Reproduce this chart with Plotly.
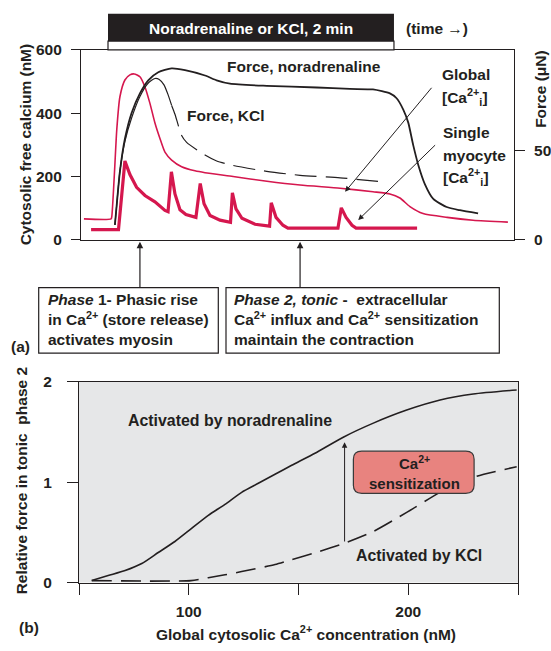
import plotly.graph_objects as go

# ---------------- data ----------------
STIM = [0, 120]  # stimulus bar, s

GLOBAL_T = [-10.1, 1.3, 1.6, 2.6, 3.7, 5.0, 7.1, 9.2, 11.0, 13.4, 15.5, 17.6, 19.7, 21.8, 23.9,
            26.7, 30.9, 36.5, 40.7, 52.5, 66.7, 80.6, 97.4, 111.2, 118.3, 122.5, 126.7, 132.2,
            142.3, 153.2, 167.8]
GLOBAL_CA = [66, 66, 74, 197, 350, 452, 505, 521, 524, 515, 483, 431, 369, 320, 277,
             252, 231, 218, 212, 200, 185, 173, 163, 152, 145, 132, 105, 83,
             71, 62, 56]

SINGLE_T = [-7.1, 4.4, 7.1, 9.2, 12.0, 15.5, 19.7, 23.9, 25.2, 26.6, 28.1, 30.2, 32.7, 36.9,
            38.7, 40.3, 42.8, 47.0, 51.4, 52.2, 53.7, 56.2, 61.7, 67.8, 68.5, 70.5, 73.4,
            75.5, 96.5, 97.9, 99.9, 102.4, 104.1, 129.7]
SINGLE_CA = [32, 32, 249, 206, 166, 140, 120, 93, 89, 215, 145, 95, 80, 71,
             178, 114, 77, 62, 55, 148, 98, 68, 49, 43, 117, 71, 46,
             37, 37, 101, 71, 46, 37, 37]

NA_T = [2.9, 3.7, 5.0, 7.1, 9.9, 13.4, 16.9, 21.1, 26.7, 32.3, 40.7, 45.6, 51.2, 66.6, 87.6,
        101.5, 111.2, 118.3, 121.1, 123.9, 126.0, 128.1, 130.2, 133.0, 136.5, 142.1, 147.7, 155.3]
NA_FORCE = [8.3, 20.1, 38.2, 56.4, 70.8, 81.7, 89.0, 93.5, 95.7, 94.7, 91.7, 89.0, 87.1, 85.9, 85.0,
            84.2, 83.9, 81.7, 79.0, 72.7, 65.4, 52.7, 41.8, 31.0, 22.8, 18.3, 16.5, 14.7]

KCL_T = [2.9, 3.7, 5.0, 7.1, 9.9, 13.4, 16.9, 19.7, 21.5, 23.5, 25.2, 26.7,
         28.1, 30.9, 33.0, 40.7, 45.6, 52.5, 66.6, 80.6, 97.4, 116.2]
KCL_FORCE = [8.3, 20.1, 38.2, 55.0, 68.0, 80.0, 87.5, 90.0, 89.5, 86.5, 81.0, 75.0,
             70.1, 58.2, 54.4, 47.3, 44.0, 41.5, 38.2, 36.0, 34.6, 32.2]
KCL_SOLID_N = 12  # first points drawn solid, the rest dashed

PHASE_ARROW_T = [13.4, 80.6]

NA_CA = [55.8, 63.3, 71.0, 78.6, 86.1, 93.7, 101.3, 108.9, 116.5, 124.1, 131.7, 139.3, 146.9,
         157.5, 170.4, 184.1, 199.3, 214.5, 229.6, 249.4]
NA_REL = [0.02, 0.07, 0.12, 0.19, 0.30, 0.41, 0.54, 0.67, 0.78, 0.90, 0.99, 1.08, 1.17,
          1.29, 1.45, 1.59, 1.72, 1.82, 1.88, 1.92]
KCL_CA = [55.8, 101.0, 108.9, 116.5, 124.1, 139.3, 147.0, 158.0, 171.2, 184.1, 199.3, 214.5,
          231.2, 249.4]
KCL_REL = [0.02, 0.02, 0.049, 0.078, 0.11, 0.18, 0.23, 0.30, 0.395, 0.51, 0.70, 0.90,
           1.06, 1.155]
SENS_CA = 171
SENS_FROM, SENS_TO = 0.395, 1.40

# ---------------- styling ----------------
W, H = 551, 651
RED = "#d5174e"
INK = "#231f20"
FONT = "Liberation Sans, Arial, sans-serif"
FS = 15.5


def px(x):
    return x / W


def py(y):
    return 1 - y / H


fig = go.Figure()

fig.add_trace(go.Scatter(x=GLOBAL_T, y=GLOBAL_CA, mode="lines", xaxis="x", yaxis="y",
                         line=dict(color=RED, width=1.6, shape="spline", smoothing=0.6)))
fig.add_trace(go.Scatter(x=SINGLE_T, y=SINGLE_CA, mode="lines", xaxis="x", yaxis="y",
                         line=dict(color=RED, width=3.2)))
fig.add_trace(go.Scatter(x=NA_T, y=NA_FORCE, mode="lines", xaxis="x", yaxis="y2",
                         line=dict(color=INK, width=1.8, shape="spline", smoothing=0.6)))
fig.add_trace(go.Scatter(x=KCL_T[:KCL_SOLID_N], y=KCL_FORCE[:KCL_SOLID_N], mode="lines",
                         xaxis="x", yaxis="y2",
                         line=dict(color=INK, width=1.2, shape="spline", smoothing=0.6)))
fig.add_trace(go.Scatter(x=KCL_T[KCL_SOLID_N - 1:], y=KCL_FORCE[KCL_SOLID_N - 1:], mode="lines",
                         xaxis="x", yaxis="y2",
                         line=dict(color=INK, width=1.2, dash="22px,9px", shape="spline", smoothing=0.6)))

fig.add_trace(go.Scatter(x=NA_CA, y=NA_REL, mode="lines", xaxis="x2", yaxis="y3",
                         line=dict(color=INK, width=1.6, shape="spline", smoothing=0.6)))
fig.add_trace(go.Scatter(x=KCL_CA, y=KCL_REL, mode="lines", xaxis="x2", yaxis="y3",
                         line=dict(color=INK, width=1.6, dash="20px,9px", shape="spline", smoothing=0.6)))

axis_common = dict(showgrid=False, zeroline=False, linecolor=INK, linewidth=1.2,
                   tickcolor=INK, tickwidth=1.2,
                   tickfont=dict(family=FONT, size=FS, color=INK, weight="bold"))

fig.update_layout(
    width=W, height=H, margin=dict(l=0, r=0, t=0, b=0),
    paper_bgcolor="white", plot_bgcolor="white", showlegend=False,
    font=dict(family=FONT, size=FS, color=INK, weight="bold"),
    xaxis=dict(domain=[px(81), px(514)], range=[-11.33, 170.37], anchor="y",
               showline=True, mirror=True, ticks="", showticklabels=False, **axis_common),
    yaxis=dict(domain=[py(237), py(42)], range=[0, 600], anchor="x",
               tickvals=[0, 200, 400, 600], ticks="outside", ticklen=9, ticklabelstandoff=6,
               showline=True, mirror=True, **axis_common),
    yaxis2=dict(overlaying="y", side="right", anchor="x", range=[0, 105.98],
                tickvals=[0, 50], ticks="outside", ticklen=10, ticklabelstandoff=6,
                showline=False, **axis_common),
    xaxis2=dict(domain=[px(79), px(518)], range=[50, 250], anchor="y3",
                tickvals=[50, 100, 150, 200, 250], ticktext=["", "100", "", "200", ""],
                ticks="outside", ticklen=11, ticklabelstandoff=4,
                showline=True, mirror=True, **axis_common),
    yaxis3=dict(domain=[py(589), py(383)], range=[0, 2], anchor="x2",
                tickvals=[0, 1, 2], ticks="outside", ticklen=11, ticklabelstandoff=12,
                showline=True, mirror=True, **axis_common),
)

shapes = []
# stimulus bar
shapes.append(dict(type="rect", xref="x", yref="paper", x0=STIM[0], x1=STIM[1],
                   y0=py(33), y1=py(5), fillcolor=INK, line=dict(width=0)))
shapes.append(dict(type="rect", xref="x", yref="paper", x0=STIM[0], x1=STIM[1],
                   y0=py(42), y1=py(33), fillcolor="white", line=dict(color=INK, width=1.2)))
# phase boxes
shapes.append(dict(type="rect", xref="paper", yref="paper", x0=px(38.7), x1=px(218.3),
                   y0=py(353.3), y1=py(286), line=dict(color=INK, width=1.2)))
shapes.append(dict(type="rect", xref="paper", yref="paper", x0=px(226), x1=px(499.3),
                   y0=py(353.3), y1=py(286), line=dict(color=INK, width=1.2)))
# grey background of panel b
shapes.append(dict(type="rect", xref="x2 domain", yref="y3 domain", x0=0, x1=1, y0=0, y1=1,
                   fillcolor="#e6e7e8", line=dict(width=0), layer="below"))
# Ca2+ sensitization rounded box
x0, x1, y0, y1 = 175, 230, 0.89, 1.31
rx, ry = 3.8, 0.08
path = (f"M {x0+rx},{y0} L {x1-rx},{y0} Q {x1},{y0} {x1},{y0+ry} L {x1},{y1-ry} "
        f"Q {x1},{y1} {x1-rx},{y1} L {x0+rx},{y1} Q {x0},{y1} {x0},{y1-ry} "
        f"L {x0},{y0+ry} Q {x0},{y0} {x0+rx},{y0} Z")
shapes.append(dict(type="path", xref="x2", yref="y3", path=path, fillcolor="#e8837f",
                   line=dict(color="#3a3a3a", width=1.2), layer="above"))
fig.update_layout(shapes=shapes)

ann = []


def text(x, y, s, xanchor="center", color=INK, size=FS, angle=0, yanchor="middle", align="left"):
    ann.append(dict(x=px(x), y=py(y), xref="paper", yref="paper", text=s, showarrow=False,
                    xanchor=xanchor, yanchor=yanchor, textangle=angle, align=align,
                    font=dict(family=FONT, size=size, color=color, weight="bold")))


text(251, 20, "Noradrenaline or KCl, 2 min", color="white")
text(437, 20, "(time \u2192)")
text(304, 59, "Force, noradrenaline")
text(226, 109, "Force, KCl")
text(440, 67, "Global", xanchor="left")
text(440, 90, "[Ca<sup>2+</sup><sub>i</sub>]", xanchor="left")
text(441, 127, "Single", xanchor="left")
text(441, 150, "myocyte", xanchor="left")
text(441, 172, "[Ca<sup>2+</sup><sub>i</sub>]", xanchor="left")
text(25, 139, "Cytosolic free calcium (nM)", angle=-90)
text(541, 82, "Force (\u03bcN)", angle=-90)
text(46, 319, "<i>Phase</i> 1- Phasic rise<br>in Ca<sup>2+</sup> (store release)<br>activates myosin",
     xanchor="left")
text(232, 319, "<i>Phase 2, tonic</i> -&nbsp; extracellular<br>Ca<sup>2+</sup> influx and Ca<sup>2+</sup> sensitization"
     "<br>maintain the contraction", xanchor="left")
text(20, 347, "(a)")
text(230, 423, "Activated by noradrenaline", size=15.9)
text(419, 561, "Activated by KCl", size=15.9)
text(414, 466, "Ca<sup>2+</sup>", size=15)
text(414, 487, "sensitization", size=15)
text(21, 485, "Relative force in tonic&nbsp; phase 2", angle=-90)
text(306, 641, "Global cytosolic Ca<sup>2+</sup> concentration (nM)")
text(29, 635, "(b)")

# arrows from phase boxes
for t in PHASE_ARROW_T:
    ann.append(dict(x=t, xref="x", y=py(239), yref="paper", ax=0, ay=47, text="",
                    showarrow=True, arrowhead=2, arrowsize=1.1, arrowwidth=1.2, arrowcolor=INK))
# arrows to traces
ann.append(dict(x=99.5, y=151.7, xref="x", yref="y", ax=136.3, ay=485, axref="x", ayref="y",
                text="", showarrow=True, arrowhead=2, arrowsize=1.1, arrowwidth=1, arrowcolor=INK))
ann.append(dict(x=105.0, y=62.5, xref="x", yref="y", ax=137.9, ay=303.7, axref="x", ayref="y",
                text="", showarrow=True, arrowhead=2, arrowsize=1.1, arrowwidth=1, arrowcolor=INK))
ann.append(dict(x=SENS_CA, y=SENS_TO, xref="x2", yref="y3", ax=SENS_CA, ay=SENS_FROM,
                axref="x2", ayref="y3", text="", showarrow=True, arrowhead=2, arrowsize=1.1,
                arrowwidth=1, arrowcolor=INK))
fig.update_layout(annotations=ann)

fig.write_html("out.html", config={"displayModeBar": False},
               post_script="document.body.style.margin='0';document.body.style.overflow='hidden';")
